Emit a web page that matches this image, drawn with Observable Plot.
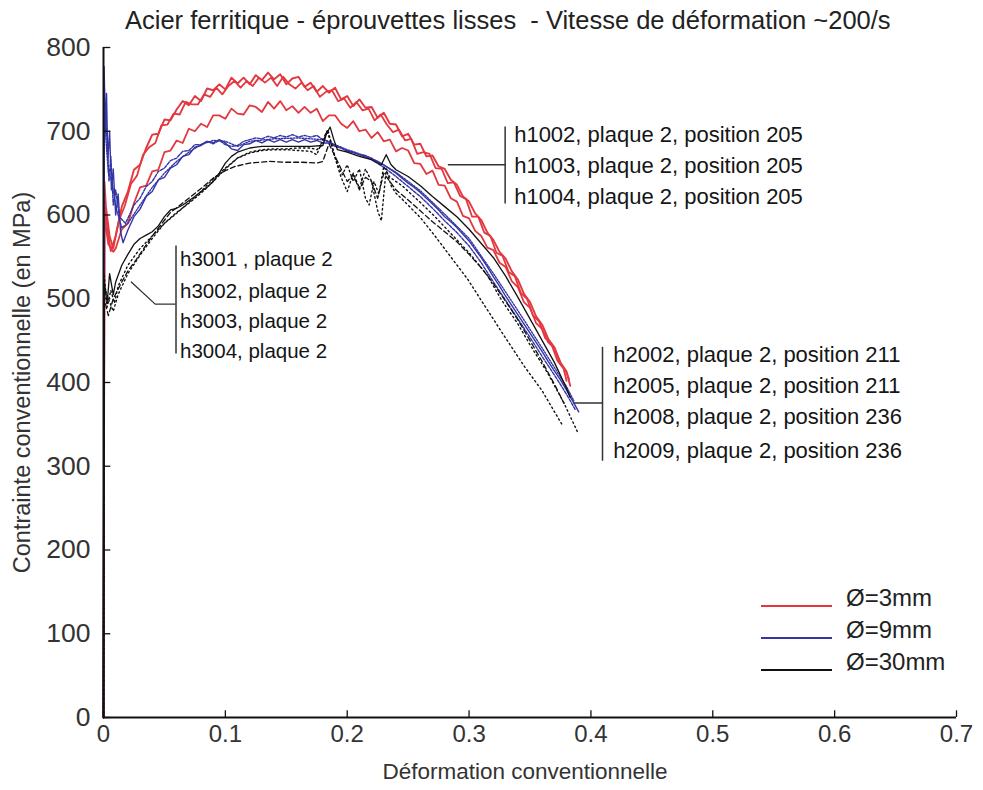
<!DOCTYPE html>
<html><head><meta charset="utf-8">
<script src="https://cdn.jsdelivr.net/npm/d3@7"></script>
<script src="https://cdn.jsdelivr.net/npm/@observablehq/plot@0.6"></script>
<style>
body{margin:0;background:#fff;}
#wrap{position:relative;width:983px;height:790px;background:#fff;font-family:"Liberation Sans",Arial,sans-serif;color:#111;}
#title{height:38px;position:relative;}
#title span{position:absolute;left:125px;top:6px;font-size:25.5px;white-space:pre;color:#222;}
#legend{position:absolute;left:761px;top:584px;}
.lg{position:relative;height:32px;}
.lg i{position:absolute;left:0;top:21px;width:71px;height:0;border-top:2px solid;}
.lg b{position:absolute;left:85px;top:0px;font-weight:normal;font-size:24px;white-space:nowrap;color:#222;}
</style></head>
<body>
<div id="wrap">
  <div id="title"><span id="ttl"></span></div>
  <div id="chart"></div>
  <div id="legend"></div>
</div>
<script>
// ---- text ----
const titleText = "Acier ferritique - éprouvettes lisses  - Vitesse de déformation ~200/s";
const xLabel = "Déformation conventionnelle";
const yLabel = "Contrainte conventionnelle (en MPa)";
const xTicks = [0, 0.1, 0.2, 0.3, 0.4, 0.5, 0.6, 0.7];
const xTickLabels = ["0", "0.1", "0.2", "0.3", "0.4", "0.5", "0.6", "0.7"];
const yTicks = [0, 100, 200, 300, 400, 500, 600, 700, 800];
const groups = ["Ø=3mm", "Ø=9mm", "Ø=30mm"];
const groupColors = ["#e3383f", "#3434a6", "#111111"];

// ---- Ø=3mm (red) ----
const h1002 = [[0,0],[0.0008,615],[0.002,600],[0.004,575],[0.006,557],
[0.010,575],[0.015,610],[0.020,628],[0.025,654],[0.030,660],[0.035,680],[0.040,696],[0.045,697],[0.050,714],[0.055,713],
[0.060,726],[0.065,736],[0.070,731],[0.075,742],[0.080,736],[0.085,751],[0.090,749],[0.095,756],[0.100,750],[0.105,764],
[0.110,757],[0.115,764],[0.120,756],[0.125,767],[0.130,761],[0.135,770],[0.140,762],[0.145,768],[0.150,756],[0.155,763],
[0.160,765],[0.165,753],[0.170,758],[0.175,747],[0.180,754],[0.185,746],[0.190,752],[0.195,738],[0.200,742],[0.205,730],
[0.210,738],[0.215,728],[0.220,729],[0.225,716],[0.230,722],[0.235,709],[0.240,708],[0.245,694],[0.250,697],[0.255,684],
[0.260,685],[0.265,670],[0.270,671],[0.275,658],[0.280,655],[0.285,642],[0.290,636],[0.295,622],[0.300,616],[0.305,602],
[0.310,594],[0.315,579],[0.320,570],[0.325,556],[0.330,548],[0.335,533],[0.340,523],[0.345,506],[0.350,496],[0.355,479],
[0.360,469],[0.365,452],[0.370,442],[0.375,424],[0.380,413],[0.383,396]];
const h1003 = [[0,0],[0.0008,640],[0.002,610],[0.005,575],[0.008,560],
[0.0125,593],[0.0175,611],[0.0225,637],[0.0275,647],[0.0325,672],[0.0375,681],[0.0425,686],[0.0475,707],[0.0525,708],
[0.0575,721],[0.0625,720],[0.0675,735],[0.0725,732],[0.0775,732],[0.0825,744],[0.0875,741],[0.0925,752],[0.0975,744],
[0.1025,754],[0.1075,760],[0.1125,752],[0.1175,760],[0.1225,754],[0.1275,764],[0.1325,758],[0.1375,764],[0.1425,754],
[0.1475,765],[0.1525,756],[0.1575,751],[0.1625,758],[0.1675,749],[0.1725,754],[0.1775,741],[0.1825,747],[0.1875,749],
[0.1925,736],[0.1975,739],[0.2025,728],[0.2075,735],[0.2125,725],[0.2175,727],[0.2225,713],[0.2275,720],[0.2325,708],
[0.2375,699],[0.2425,702],[0.2475,689],[0.2525,691],[0.2575,673],[0.2625,675],[0.2675,673],[0.2725,656],[0.2775,655],
[0.2825,638],[0.2875,639],[0.2925,623],[0.2975,619],[0.3025,598],[0.3075,598],[0.3125,579],[0.3175,575],[0.3225,555],
[0.3275,551],[0.3325,532],[0.3375,527],[0.3425,507],[0.3475,500],[0.3525,480],[0.3575,473],[0.3625,453],[0.3675,446],
[0.3725,426],[0.3775,417],[0.380,402]];
const h1004 = [[0,0],[0.0008,600],[0.002,585],[0.004,565],[0.008,556],
[0.010,560],[0.015,583],[0.020,590],[0.025,614],[0.030,633],[0.035,635],[0.040,652],[0.045,654],[0.050,675],[0.055,677],
[0.060,689],[0.065,686],[0.070,703],[0.075,700],[0.080,709],[0.085,705],[0.090,719],[0.095,719],[0.100,715],[0.105,727],
[0.110,721],[0.115,720],[0.120,731],[0.125,729],[0.130,723],[0.135,735],[0.140,727],[0.145,736],[0.150,725],[0.155,730],
[0.160,722],[0.165,729],[0.170,722],[0.175,727],[0.180,712],[0.185,719],[0.190,719],[0.195,709],[0.200,704],[0.205,712],
[0.210,700],[0.215,702],[0.220,692],[0.225,699],[0.230,688],[0.235,690],[0.240,676],[0.245,680],[0.250,677],[0.255,662],
[0.260,661],[0.265,649],[0.270,653],[0.275,636],[0.280,635],[0.285,620],[0.290,616],[0.295,599],[0.300,596],[0.305,581],
[0.310,575],[0.315,561],[0.320,558],[0.325,543],[0.330,538],[0.335,521],[0.340,514],[0.345,496],[0.350,489],[0.355,471],
[0.360,464],[0.365,448],[0.370,441],[0.375,422],[0.380,412],[0.382,404]];

// ---- Ø=9mm (blue) ----
const h2002 = [[0,0],[0.0005,777],[0.0015,700],[0.0025,745],[0.0035,665],[0.005,700],[0.0065,630],[0.008,655],[0.010,600],
[0.012,625],[0.014,580],[0.016,567],[0.020,582],[0.025,598],[0.030,607],[0.035,622],[0.040,628],[0.045,642],[0.050,645],
[0.055,656],[0.060,660],[0.065,670],[0.070,672],[0.075,681],[0.080,683],[0.085,688],[0.090,686],[0.095,690],[0.100,686],
[0.105,679],[0.110,677],[0.115,684],[0.120,685],[0.125,689],[0.130,686],[0.135,690],[0.140,687],[0.145,690],[0.150,687],
[0.155,690],[0.160,687],[0.165,690],[0.170,687],[0.175,689],[0.180,686],[0.185,686],[0.190,682],[0.195,680],[0.200,676],
[0.205,675],[0.210,672],[0.215,671],[0.220,667],[0.225,664],[0.230,660],[0.235,655],[0.240,650],[0.245,644],[0.250,638],
[0.255,633],[0.260,627],[0.265,620],[0.270,613],[0.275,606],[0.280,598],[0.285,592],[0.290,585],[0.295,577],[0.300,569],
[0.305,559],[0.310,549],[0.315,538],[0.320,526],[0.325,515],[0.330,503],[0.335,492],[0.340,481],[0.345,470],[0.350,459],
[0.355,448],[0.360,437],[0.365,425],[0.370,414],[0.375,403],[0.380,391],[0.385,378],[0.390,365]];
const h2005 = [[0,0],[0.0005,760],[0.0015,720],[0.003,690],[0.0045,640],[0.006,670],[0.008,612],[0.010,630],[0.013,598],
[0.018,590],[0.020,596],[0.025,612],[0.030,620],[0.035,634],[0.040,640],[0.045,652],[0.050,656],[0.055,665],[0.060,668],
[0.065,676],[0.070,677],[0.075,684],[0.080,684],[0.085,688],[0.090,685],[0.095,689],[0.100,684],[0.105,682],[0.110,683],
[0.115,688],[0.120,690],[0.125,692],[0.130,691],[0.135,694],[0.140,692],[0.145,695],[0.150,693],[0.155,696],[0.160,693],
[0.165,695],[0.170,693],[0.175,695],[0.180,690],[0.185,688],[0.190,683],[0.200,677],[0.210,672],[0.220,666],[0.230,657],
[0.240,646],[0.250,634],[0.260,622],[0.270,608],[0.280,593],[0.290,579],[0.300,563],[0.310,543],[0.320,520],[0.330,498],
[0.340,476],[0.350,454],[0.360,431],[0.370,409],[0.380,386],[0.387,368]];
const h2008 = [[0,0],[0.0005,740],[0.002,690],[0.004,650],[0.007,640],[0.010,610],[0.015,585],[0.020,590],[0.030,612],
[0.040,633],[0.050,650],[0.060,664],[0.070,675],[0.080,684],[0.090,689],[0.100,688],[0.110,682],[0.120,688],[0.140,691],
[0.160,692],[0.180,690],[0.190,684],[0.200,678],[0.220,668],[0.240,651],[0.260,629],[0.280,601],[0.300,572],[0.320,530],
[0.340,486],[0.360,441],[0.380,395],[0.386,378]];

// ---- Ø=30mm (black) ----
const h3001 = [[0,0],[0.0005,520],[0.003,495],[0.005,530],[0.008,505],[0.010,520],[0.015,540],[0.020,553],[0.025,565],
[0.030,572],[0.035,576],[0.040,580],[0.045,587],[0.050,598],[0.055,606],[0.060,608],[0.065,612],[0.070,617],[0.075,622],
[0.080,628],[0.085,633],[0.090,640],[0.095,650],[0.100,662],[0.105,670],[0.110,675],[0.120,680],[0.130,682],[0.140,682],
[0.150,682],[0.160,682],[0.170,682],[0.180,683],[0.183,697],[0.186,705],[0.189,690],[0.192,678],[0.200,675],[0.210,670],
[0.220,666],[0.228,660],[0.232,672],[0.236,660],[0.240,654],[0.250,646],[0.260,635],[0.270,622],[0.280,610],[0.290,598],
[0.300,583],[0.310,566],[0.320,549],[0.330,527],[0.340,502],[0.350,476],[0.360,450],[0.370,424],[0.380,393],[0.383,382]];
const h3002 = [[0,0],[0.0005,500],[0.004,480],[0.008,500],[0.015,520],[0.020,533],[0.027,547],[0.040,575],[0.055,603],
[0.070,620],[0.082,634],[0.090,644],[0.100,653],[0.108,658],[0.120,662],[0.136,664],[0.150,663],[0.163,663],[0.175,662],
[0.180,664],[0.185,685],[0.190,670],[0.195,655],[0.200,640],[0.205,648],[0.210,630],[0.215,645],[0.220,640],[0.225,620],
[0.230,650],[0.235,640],[0.240,630],[0.250,618],[0.260,605],[0.270,592],[0.280,580],[0.290,568],[0.300,553],[0.310,537],
[0.320,518],[0.330,497],[0.340,475],[0.350,450],[0.360,425],[0.370,398],[0.378,375]];
const h3003 = [[0,0],[0.0005,530],[0.003,490],[0.006,510],[0.009,495],[0.012,515],[0.020,540],[0.030,560],[0.040,575],
[0.050,590],[0.060,603],[0.070,614],[0.080,626],[0.090,640],[0.100,655],[0.110,668],[0.120,675],[0.130,678],[0.140,679],
[0.150,679],[0.160,680],[0.170,680],[0.175,678],[0.180,684],[0.183,700],[0.186,690],[0.190,668],[0.195,645],[0.200,628],
[0.205,650],[0.210,632],[0.215,655],[0.220,640],[0.225,605],[0.228,593],[0.232,655],[0.236,635],[0.240,626],[0.245,619],
[0.260,597],[0.272,575],[0.285,550],[0.299,523],[0.310,498],[0.326,462],[0.345,420],[0.360,390],[0.377,348]];
const h3004 = [[0,0],[0.0005,515],[0.004,500],[0.008,485],[0.012,505],[0.020,530],[0.030,552],[0.040,572],[0.050,590],
[0.060,602],[0.070,615],[0.080,628],[0.090,643],[0.100,656],[0.110,668],[0.120,674],[0.130,677],[0.140,678],[0.150,678],
[0.160,677],[0.170,676],[0.175,672],[0.180,690],[0.184,702],[0.188,680],[0.192,660],[0.196,648],[0.200,660],[0.205,640],
[0.210,655],[0.215,620],[0.218,612],[0.222,640],[0.226,625],[0.230,658],[0.235,645],[0.245,635],[0.260,615],[0.272,598],
[0.285,578],[0.300,555],[0.315,528],[0.326,500],[0.340,470],[0.350,445],[0.365,410],[0.378,375],[0.389,341]];

// ---- annotations (data coordinates) ----
const h1Labels = ["h1002, plaque 2, position 205", "h1003, plaque 2, position 205", "h1004, plaque 2, position 205"];
const h1LabelY = [696, 658, 622];
const h1Leader = [[0.283, 660], [0.3296, 660]];
const h1Bar = [0.3296, 613, 705];
const h2Labels = ["h2002, plaque 2, position 211", "h2005, plaque 2, position 211", "h2008, plaque 2, position 236", "h2009, plaque 2, position 236"];
const h2LabelY = [433, 396, 359, 318];
const h2Leader = [[0.386, 375.5], [0.4095, 375.5]];
const h2Bar = [0.4095, 306, 442];
const h3Labels = ["h3001 , plaque 2", "h3002, plaque 2", "h3003, plaque 2", "h3004, plaque 2"];
const h3LabelY = [547, 509, 473, 437];
const h3Leader = [[0.0228, 520], [0.0424, 493.6], [0.0587, 493.6]];
const h3Bar = [0.0595, 434, 563];
const labelX = [0.337, 0.4184, 0.0628];

// ---- styles ----
const curves = [
  {pts: h1002, g: 0, dash: null, w: 1.9},
  {pts: h1003, g: 0, dash: null, w: 1.8},
  {pts: h1004, g: 0, dash: null, w: 1.8},
  {pts: h2008, g: 1, dash: "1.5,1.5", w: 1.4},
  {pts: h2005, g: 1, dash: "3,1.5", w: 1.4},
  {pts: h2002, g: 1, dash: null, w: 1.4},
  {pts: h3004, g: 2, dash: "1.5,3", w: 1.4},
  {pts: h3003, g: 2, dash: "1.5,3", w: 1.4},
  {pts: h3002, g: 2, dash: "5,3", w: 1.3},
  {pts: h3001, g: 2, dash: null, w: 1.3}
];

document.getElementById("ttl").textContent = titleText;

const annFonts = [22, 22, 20.5];
const ink = "#151515";
const marks = [];
for (const c of curves) {
  marks.push(Plot.line(c.pts, {x: d => d[0], y: d => d[1], stroke: groupColors[c.g], strokeWidth: c.w,
    strokeDasharray: c.dash, strokeLinejoin: "round"}));
}
// axes
marks.push(Plot.ruleX([0], {stroke: "#111", strokeWidth: 2}));
marks.push(Plot.ruleY([0], {stroke: "#111", strokeWidth: 2}));
marks.push(Plot.ruleY(yTicks, {y: d => d, x1: d => 0, x2: d => 0.006, stroke: "#111", strokeWidth: 1.3}));
marks.push(Plot.ruleX(xTicks, {x: d => d, y1: d => 0, y2: d => 8, stroke: "#111", strokeWidth: 1.3}));
marks.push(Plot.text(yTicks, {y: d => d, text: d => String(d), frameAnchor: "left", textAnchor: "end", dx: -13, fontSize: 26.5, fill: "#333"}));
marks.push(Plot.text(xTicks, {x: d => d, text: (d, i) => xTickLabels[i], frameAnchor: "bottom", dy: 24, fontSize: 24, fill: "#333"}));
marks.push(Plot.text([xLabel], {text: d => d, frameAnchor: "bottom", textAnchor: "middle", dy: 61, dx: -5, fontSize: 22.5, fill: "#333"}));
marks.push(Plot.text([yLabel], {text: d => d, frameAnchor: "left", textAnchor: "middle", rotate: -90, dx: -81, fontSize: 23.5, fill: "#333"}));
// annotations
const groupsAnn = [
  [h1Labels, h1LabelY, h1Leader, h1Bar, labelX[0], annFonts[0]],
  [h2Labels, h2LabelY, h2Leader, h2Bar, labelX[1], annFonts[1]],
  [h3Labels, h3LabelY, h3Leader, h3Bar, labelX[2], annFonts[2]]
];
for (const [labs, ys, leader, bar, lx, fs] of groupsAnn) {
  marks.push(Plot.line(leader, {x: d => d[0], y: d => d[1], stroke: "#333", strokeWidth: 1.3}));
  marks.push(Plot.ruleX([bar], {x: d => d[0], y1: d => d[1], y2: d => d[2], stroke: "#333", strokeWidth: 1.5}));
  marks.push(Plot.text(labs, {x: d => lx, y: (d, i) => ys[i], text: d => d, textAnchor: "start", fontSize: fs, fill: ink}));
}

const plot = Plot.plot({
  width: 983,
  height: 752,
  marginTop: 9,
  marginBottom: 73,
  marginLeft: 103,
  marginRight: 27,
  x: {domain: [0, 0.7], axis: null},
  y: {domain: [0, 800], axis: null},
  style: {fontFamily: "'Liberation Sans', Arial, sans-serif", background: "white", overflow: "visible"},
  marks
});
document.getElementById("chart").appendChild(plot);

// legend
const lg = document.getElementById("legend");
groups.forEach((g, i) => {
  const row = document.createElement("div");
  row.className = "lg";
  const line = document.createElement("i");
  line.style.borderTopColor = groupColors[i];
  const lab = document.createElement("b");
  lab.textContent = g;
  row.appendChild(line); row.appendChild(lab);
  lg.appendChild(row);
});
</script>
</body></html>
